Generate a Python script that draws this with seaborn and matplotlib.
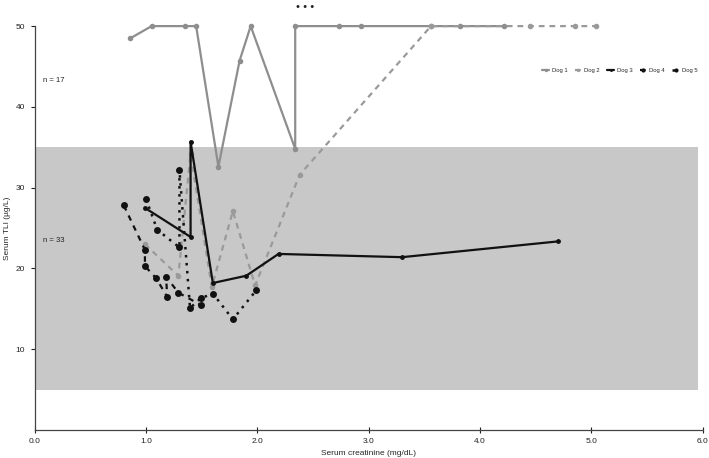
import pandas as pd
import matplotlib
matplotlib.use("Agg")
import matplotlib.pyplot as plt
import seaborn as sns

# ---------------------------------------------------------------
# Data; points are joined in sampling order
# ---------------------------------------------------------------
dog_names = ["Dog 1", "Dog 2", "Dog 3", "Dog 4", "Dog 5"]

dog1_creat = [0.86, 1.05, 1.35, 1.45, 1.65, 1.84, 1.94, 2.34, 2.34, 2.73, 2.93, 3.56, 3.82, 4.22]
dog1_tli = [48.5, 50.0, 50.0, 50.0, 32.6, 45.7, 50.0, 34.8, 50.0, 50.0, 50.0, 50.0, 50.0, 50.0]

dog2_creat = [0.99, 1.29, 1.40, 1.59, 1.78, 1.98, 2.38, 3.56, 4.45, 4.85, 5.04]
dog2_tli = [23.0, 19.1, 34.2, 17.7, 27.1, 17.9, 31.6, 50.0, 50.0, 50.0, 50.0]

dog3_creat = [0.99, 1.40, 1.40, 1.60, 1.90, 2.19, 3.30, 4.70]
dog3_tli = [27.5, 23.9, 35.7, 18.2, 19.1, 21.8, 21.4, 23.35]

dog4_creat = [0.80, 0.99, 0.99, 1.09, 1.19, 1.18, 1.29, 1.49]
dog4_tli = [27.8, 22.3, 20.3, 18.8, 16.5, 19.0, 17.0, 15.5]

dog5_creat = [1.00, 1.10, 1.30, 1.30, 1.395, 1.49, 1.60, 1.78, 1.99]
dog5_tli = [28.6, 24.8, 22.6, 32.2, 15.1, 16.3, 16.9, 13.7, 17.3]

x_ticks = [0, 1, 2, 3, 4, 5, 6]
y_ticks = [10, 20, 30, 40, 50]
ref_low, ref_high = 5, 35

series = {
    "Dog 1": (dog1_creat, dog1_tli),
    "Dog 2": (dog2_creat, dog2_tli),
    "Dog 3": (dog3_creat, dog3_tli),
    "Dog 4": (dog4_creat, dog4_tli),
    "Dog 5": (dog5_creat, dog5_tli),
}

# style per dog: colour, dash pattern, marker size
styles = {
    "Dog 1": dict(color="#8e8e8e", linestyle="-", markersize=4, lw=1.6),
    "Dog 2": dict(color="#9a9a9a", linestyle=(0, (2.6, 2.2)), markersize=4, lw=1.6),
    "Dog 3": dict(color="#111111", linestyle="-", markersize=3.5, lw=1.6),
    "Dog 4": dict(color="#111111", linestyle=(0, (2.5, 2.5)), markersize=5, lw=1.6),
    "Dog 5": dict(color="#111111", linestyle=(0, (1, 2.2)), markersize=5, lw=1.8),
}

sns.set_theme(style="ticks")
plt.rcParams["font.family"] = ["Liberation Sans", "DejaVu Sans"]

fig = plt.figure(figsize=(7.09, 4.58), dpi=100)
ax = fig.add_axes([0.049, 0.061, 0.942, 0.882])

# reference interval band
ax.axhspan(ref_low, ref_high, xmin=0, xmax=5.96 / 6, color="#c8c8c8", lw=0, zorder=0)

for name in dog_names:
    xs, ys = series[name]
    st = styles[name]
    df = pd.DataFrame({"creat": xs, "tli": ys})
    sns.lineplot(data=df, x="creat", y="tli", sort=False, estimator=None, ax=ax,
                 color=st["color"], linestyle=st["linestyle"], lw=st["lw"],
                 marker="o", markersize=st["markersize"], markeredgewidth=0,
                 label=name, clip_on=False, zorder=3)

ax.set_xlim(0, 6)
ax.set_ylim(0, 50)
ax.set_xticks(x_ticks)
ax.set_xticklabels([f"{t:.1f}" for t in x_ticks])
ax.set_yticks(y_ticks)
ax.set_yticklabels([str(t) for t in y_ticks])
ax.tick_params(axis="x", direction="inout", length=5, width=0.8, labelsize=6, pad=3, colors="#222222")
ax.tick_params(axis="y", direction="out", length=3, width=0.8, labelsize=6, pad=4, colors="#222222")

sns.despine(ax=ax)
for side in ["left", "bottom"]:
    ax.spines[side].set_color("#444444")
    ax.spines[side].set_linewidth(0.9)

ax.set_xlabel("Serum creatinine (mg/dL)", fontsize=6, labelpad=4)
ax.set_ylabel("Serum TLI (µg/L)", fontsize=6, labelpad=3)

ax.text(0.07, 43.3, "n = 17", fontsize=5.5, va="center", color="#222222")
ax.text(0.07, 23.5, "n = 33", fontsize=5.5, va="center", color="#222222")
ax.text(2.43, 52.4, "• • •", fontsize=8, ha="center", va="center", clip_on=False)

leg = ax.legend(loc="center", bbox_to_anchor=(0.876, 0.891), ncol=5, frameon=False,
                fontsize=4.2, handlelength=1.2, handletextpad=0.4, columnspacing=1.3,
                markerscale=0.6)

fig.savefig("out.png", dpi=100)
